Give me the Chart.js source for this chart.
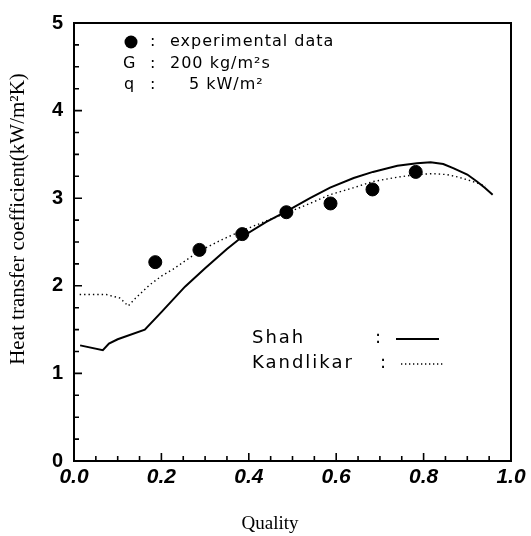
<!DOCTYPE html>
<html>
<head>
<meta charset="utf-8">
<script src="https://cdn.jsdelivr.net/npm/chart.js@4.4.1/dist/chart.umd.min.js"></script>
<style>
  html, body { margin: 0; padding: 0; background: #fff; }
  #wrap { width: 531px; height: 536px; }
</style>
</head>
<body>
<div id="wrap"><canvas id="chart" width="531" height="536"></canvas></div>
<script>
// Experimental data (quality, h)
const expQuality = [0.186, 0.287, 0.385, 0.486, 0.587, 0.683, 0.782];
const expH = [2.27, 2.41, 2.59, 2.84, 2.94, 3.10, 3.30];

// Shah correlation
const shahQuality = [0.014, 0.066, 0.08, 0.10, 0.162, 0.20, 0.254, 0.30, 0.35, 0.385, 0.44, 0.486, 0.54, 0.586, 0.64, 0.684, 0.74, 0.785, 0.816, 0.845, 0.869, 0.90, 0.922, 0.94, 0.958];
const shahH = [1.32, 1.265, 1.34, 1.39, 1.50, 1.70, 1.99, 2.20, 2.42, 2.56, 2.73, 2.85, 3.00, 3.12, 3.23, 3.30, 3.37, 3.40, 3.41, 3.39, 3.34, 3.27, 3.19, 3.12, 3.04];

// Kandlikar correlation
const kandQuality = [0.013, 0.074, 0.105, 0.124, 0.139, 0.173, 0.20, 0.227, 0.288, 0.34, 0.385, 0.44, 0.486, 0.54, 0.586, 0.64, 0.684, 0.74, 0.785, 0.82, 0.853, 0.88, 0.907, 0.942];
const kandH = [1.90, 1.90, 1.86, 1.77, 1.85, 2.01, 2.11, 2.19, 2.40, 2.53, 2.63, 2.74, 2.83, 2.94, 3.04, 3.12, 3.19, 3.24, 3.27, 3.28, 3.27, 3.24, 3.20, 3.14];

// Axis ticks
const xTickLabels = [0.0, 0.2, 0.4, 0.6, 0.8, 1.0];
const yTickLabels = [0, 1, 2, 3, 4, 5];

function toPoints(xs, ys) {
    return xs.map((x, i) => ({ x: x, y: ys[i] }));
}

// Frame, inward ticks and texts
const decorations = {
    id: 'decorations',
    afterDatasetsDraw(chart) {
        const ctx = chart.ctx;
        const a = chart.chartArea;
        const xs = chart.scales.x;
        const ys = chart.scales.y;
        ctx.save();
        ctx.strokeStyle = '#000';
        ctx.lineWidth = 2;
        ctx.strokeRect(a.left, a.top, a.right - a.left, a.bottom - a.top);

        ctx.lineWidth = 1.6;
        ctx.beginPath();
        for (let i = 1; i < 20; i++) {
            const px = xs.getPixelForValue(i * 0.05);
            const len = (i % 4 === 0) ? 8 : 5;
            ctx.moveTo(px, a.bottom);
            ctx.lineTo(px, a.bottom - len);
        }
        for (let i = 1; i < 20; i++) {
            const py = ys.getPixelForValue(i * 0.25);
            const len = (i % 4 === 0) ? 8 : 5;
            ctx.moveTo(a.left, py);
            ctx.lineTo(a.left + len, py);
        }
        ctx.stroke();

        // annotation block
        ctx.fillStyle = '#000';
        ctx.font = '16px "DejaVu Sans"';
        ctx.letterSpacing = '1px';
        ctx.textBaseline = 'middle';
        ctx.textAlign = 'left';
        ctx.beginPath();
        ctx.arc(131, 42, 6.5, 0, Math.PI * 2);
        ctx.fill();
        ctx.fillText(':', 150, 42);
        ctx.fillText('experimental data', 170, 42);
        ctx.fillText('G', 123, 64);
        ctx.fillText(':', 150, 64);
        ctx.fillText('200 kg/m²s', 170, 64);
        ctx.fillText('q', 124, 85);
        ctx.fillText(':', 150, 85);
        ctx.fillText('5 kW/m²', 189, 85);

        // legend
        ctx.font = '18px "DejaVu Sans"';
        ctx.letterSpacing = '2px';
        ctx.fillText('Shah', 252, 338);
        ctx.fillText(':', 375, 338);
        ctx.fillText('Kandlikar', 252, 363);
        ctx.fillText(':', 380, 363);
        ctx.letterSpacing = '0px';
        ctx.lineWidth = 2;
        ctx.beginPath();
        ctx.moveTo(396, 339);
        ctx.lineTo(439, 339);
        ctx.stroke();
        ctx.lineWidth = 1.3;
        ctx.setLineDash([1.3, 2.7]);
        ctx.beginPath();
        ctx.moveTo(401, 364);
        ctx.lineTo(443, 364);
        ctx.stroke();
        ctx.setLineDash([]);

        // axis titles
        ctx.font = '19px "Liberation Serif"';
        ctx.textAlign = 'center';
        ctx.fillText('Quality', 270, 524);
        ctx.font = '21px "Liberation Serif"';
        ctx.translate(18, 219);
        ctx.rotate(-Math.PI / 2);
        ctx.fillText('Heat transfer coefficient(kW/m²K)', 0, 0);
        ctx.restore();
    }
};

new Chart(document.getElementById('chart'), {
    type: 'scatter',
    data: {
        datasets: [
            {
                label: 'experimental data',
                data: toPoints(expQuality, expH),
                backgroundColor: '#000',
                borderColor: '#000',
                pointRadius: 6.5,
                pointHoverRadius: 6.5
            },
            {
                label: 'Shah',
                data: toPoints(shahQuality, shahH),
                showLine: true,
                borderColor: '#000',
                borderWidth: 2,
                pointRadius: 0,
                tension: 0
            },
            {
                label: 'Kandlikar',
                data: toPoints(kandQuality, kandH),
                showLine: true,
                borderColor: '#000',
                borderWidth: 1.4,
                borderDash: [1.4, 3],
                pointRadius: 0,
                tension: 0
            }
        ]
    },
    options: {
        responsive: false,
        animation: false,
        layout: { padding: { top: 16, right: 20, left: 0, bottom: 0 } },
        plugins: {
            legend: { display: false },
            tooltip: { enabled: false }
        },
        scales: {
            x: {
                type: 'linear',
                min: 0,
                max: 1,
                afterFit: (scale) => { scale.height = 75; },
                afterBuildTicks: (scale) => { scale.ticks = xTickLabels.map(v => ({ value: v })); },
                grid: { display: false, drawTicks: false },
                border: { display: false },
                ticks: {
                    padding: 4,
                    color: '#000',
                    font: { family: 'Liberation Sans', size: 21, weight: 'bold', style: 'italic' },
                    callback: (v) => v.toFixed(1)
                }
            },
            y: {
                type: 'linear',
                min: 0,
                max: 5,
                afterFit: (scale) => { scale.width = 74; },
                afterBuildTicks: (scale) => { scale.ticks = yTickLabels.map(v => ({ value: v })); },
                grid: { display: false, drawTicks: false },
                border: { display: false },
                ticks: {
                    padding: 11,
                    color: '#000',
                    font: { family: 'Liberation Sans', size: 20, weight: 'bold' },
                    callback: (v) => String(v)
                }
            }
        }
    },
    plugins: [decorations]
});
</script>
</body>
</html>
